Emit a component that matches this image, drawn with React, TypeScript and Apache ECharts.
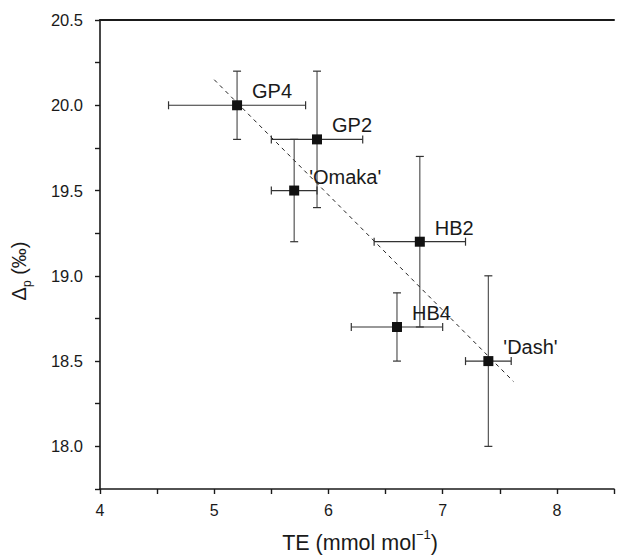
import React, { useEffect, useRef } from "react";
import * as echarts from "echarts";

const names = ["GP4", "GP2", "'Omaka'", "HB2", "HB4", "'Dash'"];
const teValues = [5.2, 5.9, 5.7, 6.8, 6.6, 7.4];
const deltaValues = [20.0, 19.8, 19.5, 19.2, 18.7, 18.5];
const teLow = [4.6, 5.5, 5.5, 6.4, 6.2, 7.2];
const teHigh = [5.8, 6.3, 5.9, 7.2, 7.0, 7.6];
const deltaLow = [19.8, 19.4, 19.2, 18.7, 18.5, 18.0];
const deltaHigh = [20.2, 20.2, 19.8, 19.7, 18.9, 19.0];
const fitX = [5.0, 7.62];
const fitY = [20.15, 18.38];

const FONT = "'Liberation Sans', Arial, Helvetica, sans-serif";
const TXT = "#1a1a1a";

export default function App() {
  const ref = useRef<HTMLDivElement>(null);
  useEffect(() => {
    document.body.style.margin = "0";
    const chart = echarts.init(ref.current!, null, { renderer: "svg" });
    const errData = teValues.map((x, i) => [x, deltaValues[i], teLow[i], teHigh[i], deltaLow[i], deltaHigh[i]]);
    const ptData = teValues.map((x, i) => ({ value: [x, deltaValues[i]], name: names[i] }));
    const cap = 4;
    chart.setOption({
      animation: false,
      textStyle: { fontFamily: FONT },
      grid: { left: 100, right: 0, top: 20, bottom: 71 },
      xAxis: [
        {
          type: "value",
          min: 4,
          max: 8.5,
          interval: 0.5,
          splitLine: { show: false },
          axisLine: { show: true, lineStyle: { color: TXT, width: 1.6 } },
          axisTick: { show: true, length: 5, lineStyle: { color: TXT, width: 1.4 } },
          axisLabel: {
            color: TXT,
            fontSize: 16,
            fontFamily: FONT,
            margin: 13,
            formatter: (v: number) => (Math.abs(v - Math.round(v)) < 1e-6 ? String(Math.round(v)) : ""),
          },
        },
        {
          type: "value",
          position: "top",
          min: 4,
          max: 8.5,
          splitLine: { show: false },
          axisLine: { show: true, lineStyle: { color: TXT, width: 2 } },
          axisTick: { show: false },
          axisLabel: { show: false },
        },
      ],
      yAxis: {
        type: "value",
        min: 17.75,
        max: 20.5,
        interval: 0.25,
        splitLine: { show: false },
        axisLine: { show: true, lineStyle: { color: TXT, width: 1.6 } },
        axisTick: { show: true, length: 5, lineStyle: { color: TXT, width: 1.4 } },
        axisLabel: {
          color: TXT,
          fontSize: 16.5,
          fontFamily: FONT,
          margin: 17,
          formatter: (v: number) => (Math.abs(v * 2 - Math.round(v * 2)) < 1e-6 ? v.toFixed(1) : ""),
        },
      },
      series: [
        {
          type: "custom",
          z: 2,
          data: errData,
          renderItem: (params: any, api: any) => {
            const x = api.value(0), y = api.value(1);
            const xl = api.coord([api.value(2), y]);
            const xh = api.coord([api.value(3), y]);
            const yl = api.coord([x, api.value(4)]);
            const yh = api.coord([x, api.value(5)]);
            const st = { stroke: "#333", lineWidth: 1.2 };
            return {
              type: "group",
              children: [
                { type: "line", shape: { x1: xl[0], y1: xl[1], x2: xh[0], y2: xh[1] }, style: st },
                { type: "line", shape: { x1: xl[0], y1: xl[1] - cap, x2: xl[0], y2: xl[1] + cap }, style: st },
                { type: "line", shape: { x1: xh[0], y1: xh[1] - cap, x2: xh[0], y2: xh[1] + cap }, style: st },
                { type: "line", shape: { x1: yl[0], y1: yl[1], x2: yh[0], y2: yh[1] }, style: { stroke: "#555", lineWidth: 1.2 } },
                { type: "line", shape: { x1: yl[0] - cap, y1: yl[1], x2: yl[0] + cap, y2: yl[1] }, style: st },
                { type: "line", shape: { x1: yh[0] - cap, y1: yh[1], x2: yh[0] + cap, y2: yh[1] }, style: st },
              ],
            };
          },
        },
        {
          type: "line",
          z: 3,
          data: fitX.map((x, i) => [x, fitY[i]]),
          symbol: "none",
          lineStyle: { color: "#222", width: 1, type: [4, 4] },
        },
        {
          type: "scatter",
          z: 4,
          data: ptData,
          symbol: "rect",
          symbolSize: 10,
          itemStyle: { color: "#111", opacity: 1 },
          label: {
            show: true,
            position: "right",
            distance: 10,
            offset: [0, -14],
            formatter: (p: any) => p.name,
            color: TXT,
            opacity: 1,
            textBorderWidth: 0,
            fontSize: 20,
            fontFamily: FONT,
          },
          emphasis: { disabled: true },
        },
      ],
      graphic: [
        {
          type: "text",
          x: 360,
          y: 541,
          style: {
            text: "{a|TE (mmol mol}{s|−1}{a|)}",
            textAlign: "center",
            textVerticalAlign: "middle",
            fill: TXT,
            rich: {
              a: { fontSize: 21.5, fontFamily: FONT, fill: TXT, lineHeight: 26, verticalAlign: "bottom" },
              s: { fontSize: 13, fontFamily: FONT, fill: TXT, lineHeight: 26, verticalAlign: "top" },
            },
          },
        },
        {
          type: "text",
          x: 21,
          y: 271,
          rotation: Math.PI / 2,
          style: {
            text: "{a|Δ}{p|p}{a| (‰)}",
            textAlign: "center",
            textVerticalAlign: "middle",
            fill: TXT,
            rich: {
              a: { fontSize: 20, fontFamily: FONT, fill: TXT, lineHeight: 24, verticalAlign: "top" },
              p: { fontSize: 12, fontFamily: FONT, fill: TXT, lineHeight: 24, verticalAlign: "bottom" },
            },
          },
        },
      ],
    });
    return () => chart.dispose();
  }, []);
  return <div ref={ref} style={{ width: 617, height: 560 }} />;
}
